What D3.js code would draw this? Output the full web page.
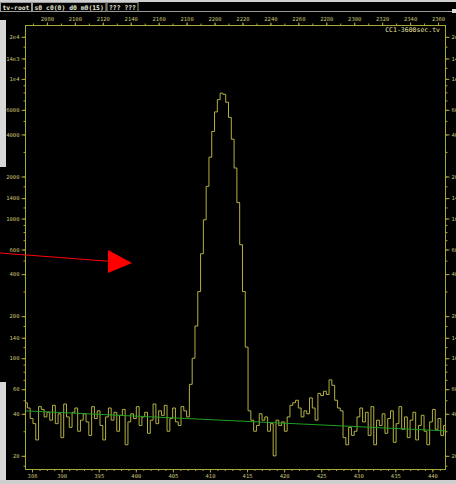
<!doctype html>
<html>
<head>
<script src="https://d3js.org/d3.v7.min.js"></script>
<style>
  body { margin: 0; background: #000; }
  svg { display: block; }
</style>
</head>
<body>
<script>
// spectrum: bins of 2 channels starting at channel 2064
var chStart = 2064;
var chWidth = 2;
var counts = [
  48,44,37,34,26,45,43,38,41,36, 46,34,40,27,47,38,32,41,44,30,
  36,40,35,28,45,37,42,33,26,38, 44,36,41,30,39,43,24,35,40,37,
  45,33,38,41,29,36,47,34,42,39, 46,30,37,44,35,33,45,42,38,
  65,100,170,300,560,980,1700,2750,4200,5800,7100,7900,7750,6800,5300,3700,2300,1300,650,300,120,42,
  36,30,33,40,36,38,30,34,20,36,33,35,30,38,
  46,48,50,44,38,42,40,52,44,36,56,54,58,55,70,64,50,44,42,27,24,32,28,
  30,38,44,35,41,28,45,24,36,33, 40,29,37,42,25,34,45,31,38,27,
  36,41,26,33,39,30,24,35,43,31, 37,28,33
];
// background fit line (channel, counts)
var bgChannels = [2064.3, 2365];
var bgCounts = [42, 30.2];

var topTicks = d3.range(2080, 2361, 20);
var bottomTicks = [386, 390, 395, 400, 405, 410, 415, 420, 425, 430, 435, 440];
var yTicks = [20, 40, 60, 100, 140, 200, 400, 600, 1000, 1400, 2000, 4000, 6000, 10000, 14000, 20000];
var yLabels = ["20", "40", "60", "100", "140", "200", "400", "600", "1000", "1400", "2000", "4000", "6000", "1e4", "14e3", "2e4"];
var yMinorSteps = [1, 1.2, 1.4, 1.7, 2, 3, 4, 5, 6, 7, 8, 9];
var headerBoxes = ["tv-root", "s0 c0(0) d0 m0(15)", "??? ???"];
var title = "CC1-3600sec.tv";

var W = 456, H = 484;
var frame = { left: 25, right: 445, top: 25, bottom: 469 };
var axisColor = "#a8a838";
var textColor = "#c8c478";

var svg = d3.select("body").append("svg")
  .attr("width", W)
  .attr("height", H)
  .style("background", "#000");

// scales
var xTop = d3.scaleLinear().domain([2064.3, 2365]).range([frame.left, frame.right]);
var xBottom = d3.scaleLinear().domain([385.05, 441.7]).range([frame.left, frame.right]);
var y = d3.scaleLog().domain([16.1, 24300]).range([frame.bottom, frame.top]);

// window edges from the screenshot
svg.append("rect").attr("x", 0).attr("y", 0).attr("width", W).attr("height", 2).attr("fill", "#cfcfcf");
svg.append("rect").attr("x", 0).attr("y", 20).attr("width", 6).attr("height", 147).attr("fill", "#d8d8d8");
svg.append("rect").attr("x", 0).attr("y", 382).attr("width", 6).attr("height", 102).attr("fill", "#d8d8d8");
svg.append("rect").attr("x", 0).attr("y", 480).attr("width", W).attr("height", 4).attr("fill", "#cfcfcf");

// header
var hdr = svg.append("g").attr("font-family", "DejaVu Sans Mono").attr("font-size", 6.4).attr("font-weight", "bold");
var hx = 0;
headerBoxes.forEach(function (t) {
  var w = t.length * 3.86 + 4;
  hdr.append("rect").attr("x", hx + 0.5).attr("y", 2.5).attr("width", w).attr("height", 9)
    .attr("fill", "#000").attr("stroke", "#9a9a9a");
  hdr.append("text").attr("x", hx + 2.5).attr("y", 9.5).attr("fill", "#e8e8d8").text(t);
  hx += w + 1;
});
svg.append("line").attr("x1", hx).attr("x2", 452).attr("y1", 11.5).attr("y2", 11.5).attr("stroke", "#9a9a9a");
svg.append("rect").attr("x", 452).attr("y", 9).attr("width", 4).attr("height", 4).attr("fill", "#ddd");

// frame
svg.append("rect")
  .attr("x", frame.left + 0.5).attr("y", frame.top + 0.5)
  .attr("width", frame.right - frame.left).attr("height", frame.bottom - frame.top)
  .attr("fill", "none").attr("stroke", axisColor);

var fontSpec = { family: "DejaVu Sans Mono", size: 5.5 };

// top axis
var topAxis = d3.axisTop(xTop).tickValues(topTicks).tickSize(3).tickPadding(2).tickFormat(d3.format("d"));
svg.append("g").attr("transform", "translate(0," + (frame.top + 0.5) + ")").call(topAxis);
var topMinor = d3.axisTop(xTop).tickValues(d3.range(2070, 2365, 10)).tickSize(2).tickFormat("");
svg.append("g").attr("transform", "translate(0," + (frame.top + 0.5) + ")").call(topMinor);

// bottom axis
var bottomAxis = d3.axisBottom(xBottom).tickValues(bottomTicks).tickSize(3).tickPadding(2).tickFormat(d3.format("d"));
svg.append("g").attr("transform", "translate(0," + (frame.bottom + 0.5) + ")").call(bottomAxis);
var bottomMinor = d3.axisBottom(xBottom).tickValues(d3.range(386, 442, 1)).tickSize(1.5).tickFormat("");
svg.append("g").attr("transform", "translate(0," + (frame.bottom + 0.5) + ")").call(bottomMinor);

// left / right axes
var minorY = [];
[10, 100, 1000, 10000].forEach(function (dec) {
  yMinorSteps.forEach(function (s) {
    var v = s * dec;
    if (v > 16.1 && v < 24300) minorY.push(v);
  });
});
var leftAxis = d3.axisLeft(y).tickValues(yTicks).tickSize(4).tickPadding(2)
  .tickFormat(function (d, i) { return yLabels[i]; });
svg.append("g").attr("transform", "translate(" + (frame.left + 0.5) + ",0)").call(leftAxis);
svg.append("g").attr("transform", "translate(" + (frame.left + 0.5) + ",0)")
  .call(d3.axisLeft(y).tickValues(minorY).tickSize(2).tickFormat(""));
var rightAxis = d3.axisRight(y).tickValues(yTicks).tickSize(4).tickPadding(2)
  .tickFormat(function (d, i) { return yLabels[i]; });
svg.append("g").attr("transform", "translate(" + (frame.right + 0.5) + ",0)").call(rightAxis);
svg.append("g").attr("transform", "translate(" + (frame.right + 0.5) + ",0)")
  .call(d3.axisRight(y).tickValues(minorY).tickSize(2).tickFormat(""));

svg.selectAll(".domain").remove();
svg.selectAll(".tick line").attr("stroke", axisColor);
svg.selectAll(".tick text").attr("fill", textColor)
  .attr("font-family", fontSpec.family).attr("font-size", fontSpec.size);

// clip
svg.append("clipPath").attr("id", "clip").append("rect")
  .attr("x", frame.left + 1).attr("y", frame.top + 1)
  .attr("width", frame.right - frame.left - 1).attr("height", frame.bottom - frame.top - 1);

// histogram
var pts = counts.map(function (c, i) { return [chStart + i * chWidth, c]; });
pts.push([chStart + counts.length * chWidth, counts[counts.length - 1]]);
var line = d3.line()
  .x(function (d) { return xTop(d[0]); })
  .y(function (d) { return y(d[1]); })
  .curve(d3.curveStepAfter);
svg.append("path")
  .attr("clip-path", "url(#clip)")
  .attr("d", line(pts))
  .attr("fill", "none")
  .attr("stroke", "#b4b040")
  .attr("stroke-width", 1);

// background line
svg.append("line")
  .attr("clip-path", "url(#clip)")
  .attr("x1", xTop(bgChannels[0])).attr("y1", y(bgCounts[0]))
  .attr("x2", xTop(bgChannels[1])).attr("y2", y(bgCounts[1]))
  .attr("stroke", "#1fa01f").attr("stroke-width", 1);

// title
svg.append("text")
  .attr("x", 440).attr("y", 32)
  .attr("text-anchor", "end")
  .attr("font-family", "DejaVu Sans Mono").attr("font-size", 6.5)
  .attr("fill", "#e6e2a0")
  .text(title);

// red arrow annotation
svg.append("line")
  .attr("x1", 0).attr("y1", 253).attr("x2", 112).attr("y2", 261.5)
  .attr("stroke", "#ff0000").attr("stroke-width", 1);
svg.append("path")
  .attr("d", "M108,250 L132,263 L108,273 Z")
  .attr("fill", "#ff0000");
</script>
</body>
</html>
